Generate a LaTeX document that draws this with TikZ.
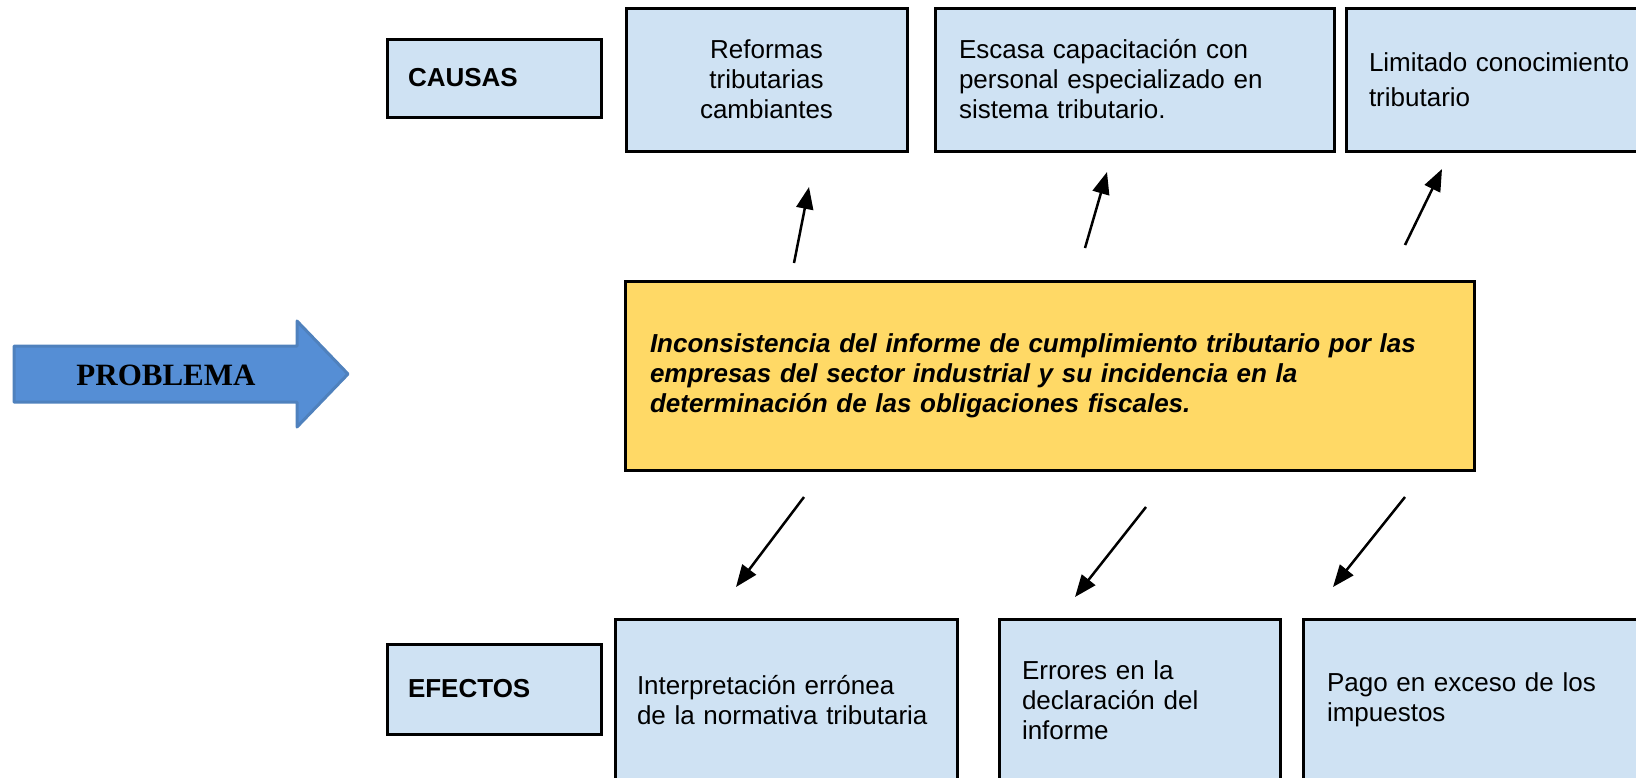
\documentclass[tikz,border=0pt]{standalone}
\usepackage{fontspec}
\setmainfont{Liberation Sans}
\newfontfamily\probfont{Liberation Serif}
\usetikzlibrary{arrows.meta}
\definecolor{boxblue}{HTML}{CFE2F3}
\definecolor{probyellow}{HTML}{FFD966}
\definecolor{arrowblue}{HTML}{558ED5}
\definecolor{arrowedge}{HTML}{4F81BD}
\begin{document}
\begin{tikzpicture}[x=1pt,y=-1pt,
  box/.style={draw=black, line width=3pt, fill=boxblue, inner ysep=0pt,
    font=\fontsize{26}{30}\selectfont, align=left},
  lbl/.style={box, font=\bfseries\fontsize{26}{30}\selectfont},
  yellowbox/.style={box, fill=probyellow, font=\bfseries\itshape\fontsize{26}{30}\selectfont},
  link/.style={-{Triangle[length=22pt 0 0,width=17pt 0 0]}, line width=2.5pt, black},
  bigarrow/.style={fill=arrowblue, draw=arrowedge, line width=3pt, line join=round},
]
\useasboundingbox (0,0) rectangle (1636,777);

% causes
\node[lbl, minimum width=214pt, minimum height=78pt, text width=172pt, inner xsep=21pt] (causas) at (494,78) {CAUSAS};
\node[box, align=center, minimum width=281pt, minimum height=143pt, text width=241pt, inner xsep=20pt] (reformas) at (766.5,79.5) {Reformas\\tributarias\\cambiantes};
\node[box, minimum width=399pt, minimum height=143pt, text width=351pt, inner xsep=24pt] (escasa) at (1134.5,79.5) {Escasa capacitación con\\personal especializado en\\sistema tributario.};
\node[box, minimum width=334pt, minimum height=143pt, text width=288pt, inner xsep=23pt,
  font=\fontsize{26}{35}\selectfont] (limitado) at (1513,79.5) {Limitado conocimiento\\tributario};

% problem
\node[yellowbox, minimum width=849pt, minimum height=189pt, text width=799pt, inner xsep=25pt] (problema) at (1049.5,375.5) {Inconsistencia del informe de cumplimiento tributario por las\\empresas del sector industrial y su incidencia en la\\determinación de las obligaciones fiscales.};

% effects
\node[lbl, minimum width=214pt, minimum height=90pt, text width=172pt, inner xsep=21pt] (efectos) at (494,689) {EFECTOS};
\node[box, minimum width=342pt, minimum height=162pt, text width=298pt, inner xsep=22pt] (interp) at (786,700) {Interpretación errónea\\de la normativa tributaria};
\node[box, minimum width=281pt, minimum height=162pt, text width=235pt, inner xsep=23pt] (errores) at (1139.5,700) {Errores en la\\declaración del\\informe};
\node[box, minimum width=377pt, minimum height=162pt, text width=329pt, inner xsep=24pt] (pago) at (1491.5,700) {Pago en exceso de los\\impuestos};

% big arrow
\draw[bigarrow] (14,346) -- (297,346) -- (297,321) -- (348,374) -- (297,427) -- (297,402) -- (14,402) -- cycle;
\node[font=\probfont\bfseries\fontsize{31}{31}\selectfont] (problabel) at (166,375) {PROBLEMA};

% arrows up (causes)
\coordinate (u1a) at (794,263); \coordinate (u1b) at (809,187);
\coordinate (u2a) at (1085,248); \coordinate (u2b) at (1107,172);
\coordinate (u3a) at (1405,245); \coordinate (u3b) at (1442,169);
\draw[link] (u1a) -- (u1b);
\draw[link] (u2a) -- (u2b);
\draw[link] (u3a) -- (u3b);

% arrows down (effects)
\coordinate (d1a) at (804,497); \coordinate (d1b) at (736,587);
\coordinate (d2a) at (1146,507); \coordinate (d2b) at (1075,597);
\coordinate (d3a) at (1405,497); \coordinate (d3b) at (1333,587);
\draw[link] (d1a) -- (d1b);
\draw[link] (d2a) -- (d2b);
\draw[link] (d3a) -- (d3b);
\end{tikzpicture}
\end{document}
